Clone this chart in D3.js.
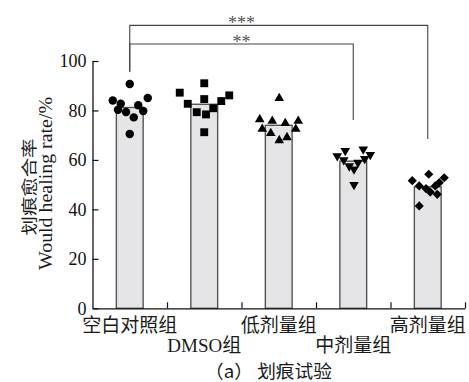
<!DOCTYPE html>
<html>
<head>
<meta charset="utf-8">
<script src="https://cdn.jsdelivr.net/npm/d3@7"></script>
<style>
  html, body { margin: 0; padding: 0; background: #fff; }
  svg { display: block; }
  .serif { font-family: "Liberation Serif", "Noto Sans CJK SC", serif; }
  .cjk { font-family: "Liberation Serif", "Noto Sans CJK SC", sans-serif; }
  .cjkonly { font-family: "Noto Sans CJK SC", sans-serif; }
</style>
</head>
<body>
<svg id="chart" width="469" height="382"></svg>
<script>
// Wound healing rate (%) per treatment group
const categories = ["空白对照组", "DMSO组", "低剂量组", "中剂量组", "高剂量组"];
const barValues = [81.2, 82.5, 74.0, 59.5, 49.1];

// Individual replicate values per group
const controlValues = [90.7, 84.0, 82.7, 80.3, 79.4, 77.2, 82.1, 79.8, 85.0, 70.5];
const dmsoValues    = [87.2, 91.0, 82.7, 84.6, 79.3, 78.4, 80.9, 83.8, 86.1, 71.2];
const lowValues     = [84.9, 76.4, 75.7, 74.8, 75.7, 72.5, 70.8, 67.9, 69.1, 72.5];
const midValues     = [61.6, 63.7, 60.0, 57.5, 56.2, 58.9, 64.3, 60.5, 62.1, 50.0];
const highValues    = [54.2, 51.6, 49.5, 48.4, 47.0, 49.5, 52.8, 50.8, 46.1, 41.4];

// Horizontal scatter of each replicate inside its group (-1 … 1)
const controlJitter = [0, -0.68, -0.36, -0.47, -0.15, 0.16, 0.34, 0.54, 0.72, 0];
const dmsoJitter    = [-0.98, 0, -0.66, 0, -0.30, 0.07, 0.36, 0.68, 1.0, 0];
const lowJitter     = [0.02, -0.76, -0.26, 0.26, 0.78, -0.66, -0.32, 0.02, 0.33, 0.68];
const midJitter     = [-0.64, -0.32, -0.38, -0.16, 0.03, 0.19, 0.40, 0.46, 0.68, 0.03];
const highJitter    = [0.04, -0.62, -0.34, -0.07, 0.10, 0.30, 0.66, 0.46, 0.38, -0.34];

const yTicks = [0, 20, 40, 60, 80, 100];

// Significance comparisons against the control group
const comparisons = [
  { from: 0, to: 4, label: "***", level: 114.4, leftEnd: 95.7, rightEnd: 68.5 },
  { from: 0, to: 3, label: "**",  level: 106.9, leftEnd: 95.7, rightEnd: 76.1 }
];

const groupValues = [controlValues, dmsoValues, lowValues, midValues, highValues];
const groupJitter = [controlJitter, dmsoJitter, lowJitter, midJitter, highJitter];
const symbols = ["circle", "square", "triangleUp", "triangleDown", "diamond"];

const svg = d3.select("#chart");
const plotLeft = 92.5, plotRight = 465, plotTop = 61, plotBottom = 308.3;

const x = d3.scaleBand().domain(categories).range([plotLeft, plotRight]).paddingInner(0.64).paddingOuter(0.32);
const cell = d3.scaleLinear().domain([0, categories.length]).range([plotLeft, plotRight]);
const y = d3.scaleLinear().domain([0, 100]).range([plotBottom, plotTop]);
const jitter = d3.scaleLinear().domain([-1, 1]).range([-25, 25]);
const cx = i => x(categories[i]) + x.bandwidth() / 2;

// Bars (group means)
svg.append("g").selectAll("rect")
  .data(barValues)
  .join("rect")
  .attr("x", (d, i) => x(categories[i]))
  .attr("y", d => y(d))
  .attr("width", x.bandwidth())
  .attr("height", d => y(0) - y(d))
  .attr("fill", "#e5e5e7")
  .attr("stroke", "#555")
  .attr("stroke-width", 1.4);

// Replicate markers
function markerPath(kind) {
  switch (kind) {
    case "circle": return d3.symbol(d3.symbolCircle, 56)();
    case "square": return d3.symbol(d3.symbolSquare, 62)();
    case "triangleUp":
    case "triangleDown": return d3.symbol(d3.symbolTriangle, 40)();
    case "diamond": return d3.symbol(d3.symbolSquare, 42)();
  }
}
function markerRotation(kind) {
  if (kind === "triangleDown") return 180;
  if (kind === "diamond") return 45;
  return 0;
}
const pts = svg.append("g");
groupValues.forEach((vals, gi) => {
  pts.selectAll(null)
    .data(vals)
    .join("path")
    .attr("d", markerPath(symbols[gi]))
    .attr("transform", (v, k) =>
      `translate(${cx(gi) + jitter(groupJitter[gi][k])},${y(v)}) rotate(${markerRotation(symbols[gi])})`)
    .attr("fill", "#000");
});

// Y axis with inward ticks
const yAxis = svg.append("g")
  .attr("transform", `translate(${plotLeft},0)`)
  .call(d3.axisLeft(y).tickValues(yTicks).tickSize(-6).tickSizeOuter(0).tickPadding(6));
yAxis.select(".domain").attr("stroke", "#111").attr("stroke-width", 1.3);
yAxis.selectAll(".tick line").attr("stroke", "#111").attr("stroke-width", 1.2);
yAxis.selectAll(".tick text")
  .attr("class", "serif")
  .attr("font-size", 18)
  .attr("fill", "#111");

// X axis: ticks at group boundaries
const xAxis = svg.append("g")
  .attr("transform", `translate(0,${plotBottom})`)
  .call(d3.axisBottom(cell).tickValues(d3.range(1, categories.length + 1)).tickSize(-6).tickSizeOuter(0).tickFormat(""));
xAxis.select(".domain").attr("stroke", "#111").attr("stroke-width", 1.3);
xAxis.selectAll(".tick line").attr("stroke", "#111").attr("stroke-width", 1.2);

// Category labels, staggered on two rows
svg.append("g").selectAll("text")
  .data(categories)
  .join("text")
  .attr("class", "cjk")
  .attr("x", (d, i) => cx(i))
  .attr("y", (d, i) => i % 2 === 0 ? 325.5 : 345)
  .attr("text-anchor", "middle")
  .attr("dominant-baseline", "central")
  .attr("font-size", 19)
  .attr("fill", "#1a1a1a")
  .text(d => d);

// Y axis title (two lines)
svg.append("text")
  .attr("class", "cjk")
  .attr("transform", "translate(29,187) rotate(-90)")
  .attr("text-anchor", "middle")
  .attr("dominant-baseline", "central")
  .attr("font-size", 16)
  .attr("textLength", 97)
  .attr("lengthAdjust", "spacingAndGlyphs")
  .attr("fill", "#1a1a1a")
  .text("划痕愈合率");
svg.append("text")
  .attr("class", "serif")
  .attr("transform", "translate(46,183.5) rotate(-90)")
  .attr("text-anchor", "middle")
  .attr("dominant-baseline", "central")
  .attr("font-size", 18)
  .attr("textLength", 173)
  .attr("lengthAdjust", "spacingAndGlyphs")
  .attr("fill", "#1a1a1a")
  .text("Would healing rate/%");

// Significance brackets
const br = svg.append("g");
comparisons.forEach(c => {
  const x1 = cx(c.from), x2 = cx(c.to);
  br.append("path")
    .attr("d", `M${x1},${y(c.leftEnd)}V${y(c.level)}H${x2}V${y(c.rightEnd)}`)
    .attr("fill", "none")
    .attr("stroke", "#444")
    .attr("stroke-width", 1.1);
  br.append("text")
    .attr("class", "serif")
    .attr("x", 241.5)
    .attr("y", y(c.level) + 4)
    .attr("text-anchor", "middle")
    .attr("font-size", 18)
    .attr("fill", "#555")
    .text(c.label);
});

// Caption
svg.append("text")
  .attr("class", "cjkonly")
  .attr("x", 268.5)
  .attr("y", 370)
  .attr("text-anchor", "middle")
  .attr("dominant-baseline", "central")
  .attr("font-size", 18)
  .attr("textLength", 127)
  .attr("lengthAdjust", "spacingAndGlyphs")
  .attr("fill", "#1a1a1a")
  .text("（a） 划痕试验");
</script>
</body>
</html>
